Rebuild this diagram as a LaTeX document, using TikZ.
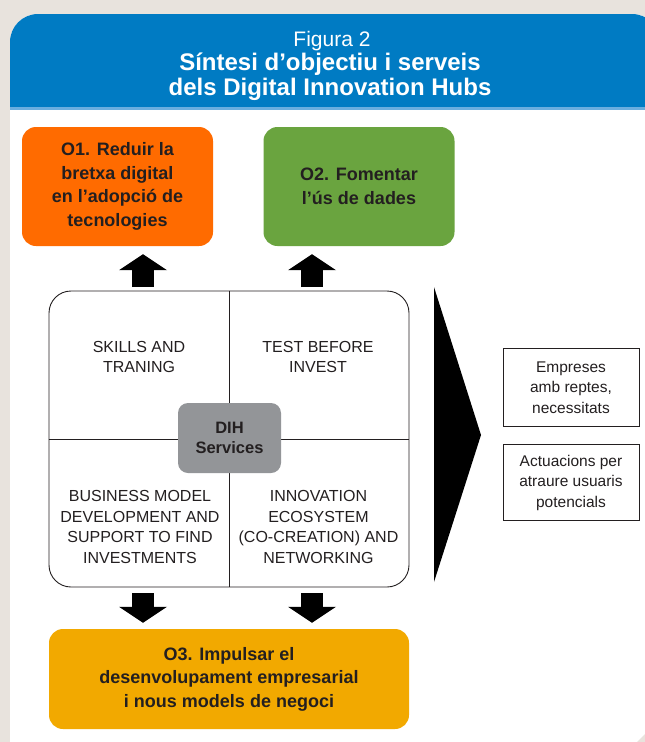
\documentclass[tikz,border=0pt]{standalone}
\usepackage{fontspec}
\setmainfont{Liberation Sans}
\usetikzlibrary{arrows.meta}
\definecolor{bgbeige}{HTML}{E8E3DD}
\definecolor{hdrblue}{HTML}{007BC3}
\definecolor{hdrline}{HTML}{6AAEDF}
\definecolor{oorange}{HTML}{FF6B00}
\definecolor{ogreen}{HTML}{6AA43F}
\definecolor{oyellow}{HTML}{F2A900}
\definecolor{dihgray}{HTML}{939598}
\definecolor{ink}{HTML}{231F20}

\begin{document}
\begin{tikzpicture}[x=1pt,y=-1pt,
  obj/.style={rounded corners=14pt,minimum width=191pt,minimum height=119pt,align=center,inner sep=0pt,text=ink,font=\fontsize{18}{23.5}\selectfont\bfseries},
  srv/.style={align=center,text=ink,font=\fontsize{16}{20.5}\selectfont},
  side/.style={draw=ink,line width=0.9pt,minimum width=136pt,align=center,inner sep=0pt,text=ink,font=\fontsize{15.5}{20.5}\selectfont},
  blk/.style={line width=22pt,-{Triangle[length=16pt,width=48pt,line width=0pt]}}]

\clip (0,0) rectangle (645,742);
\fill[bgbeige] (0,0) rectangle (645,742);

% panel and header
\fill[white] (10,760) [rounded corners=28pt]-- (10,14) -- (660,14) [sharp corners]-- (660,760) -- cycle;
\fill[hdrblue] (10,107) [rounded corners=28pt]-- (10,14) -- (660,14) [sharp corners]-- (660,107) -- cycle;
\fill[hdrline] (10,107) rectangle (645,109.5);
\fill[bgbeige] (637,742) -- (645,734) -- (645,742) -- cycle;

\node[white,anchor=base,font=\fontsize{21}{24}\selectfont] (fig) at (332,46) {Figura 2};
\node[white,anchor=base,font=\fontsize{24}{26}\selectfont\bfseries] (tt1) at (330,70) {Síntesi d’objectiu i serveis};
\node[white,anchor=base,font=\fontsize{24}{26}\selectfont\bfseries] (tt2) at (330,95) {dels Digital Innovation Hubs};

% objectives
\node[obj,fill=oorange] (o1) at (117.5,186.5) {O1. Reduir la\\bretxa digital\\en l’adopció de\\tecnologies};
\node[obj,fill=ogreen] (o2) at (359,186.5) {O2. Fomentar\\l’ús de dades};
\node[obj,fill=oyellow,minimum width=360pt,minimum height=100pt] (o3) at (229,679) {O3. Impulsar el\\desenvolupament empresarial\\i nous models de negoci};

% services
\node[draw=ink,line width=0.9pt,rounded corners=22pt,minimum width=360pt,minimum height=296pt] (hub) at (229,439) {};
\draw[ink,line width=0.9pt] (hub.north) -- (hub.south);
\draw[ink,line width=0.9pt] (hub.west) -- (hub.east);

\node[srv] (skl) at (139,357) {SKILLS AND\\TRANING};
\node[srv] (tst) at (318,357) {TEST BEFORE\\INVEST};
\node[srv] (bsn) at (140,527) {BUSINESS MODEL\\DEVELOPMENT AND\\SUPPORT TO FIND\\INVESTMENTS};
\node[srv] (eco) at (318.5,527) {INNOVATION\\ECOSYSTEM\\(CO-CREATION) AND\\NETWORKING};

\node[fill=dihgray,rounded corners=10pt,minimum width=103pt,minimum height=70pt,align=center,inner sep=0pt,text=ink,font=\fontsize{16.5}{20}\selectfont\bfseries] (dih) at (229.5,438) {DIH\\Services};

% block arrows
\coordinate (ul) at (143,291);
\coordinate (ur) at (312,291);
\coordinate (dl) at (143,587);
\coordinate (dr) at (312,587);
\draw[blk,shorten <=4pt,shorten >=8pt] (ul) -- (ul |- o1.south);
\draw[blk,shorten <=4pt,shorten >=8pt] (ur) -- (ur |- o2.south);
\draw[blk,shorten <=6pt,shorten >=6pt] (dl) -- (dl |- o3.north);
\draw[blk,shorten <=6pt,shorten >=6pt] (dr) -- (dr |- o3.north);

% users
\fill[black] (434,287) -- (481,435) -- (434,582) -- cycle;
\node[side,minimum height=78pt] (emp) at (571,387.5) {Empreses\\amb reptes,\\necessitats};
\node[side,minimum height=76pt] (act) at (571,482.5) {Actuacions per\\atraure usuaris\\potencials};

\end{tikzpicture}
\end{document}
